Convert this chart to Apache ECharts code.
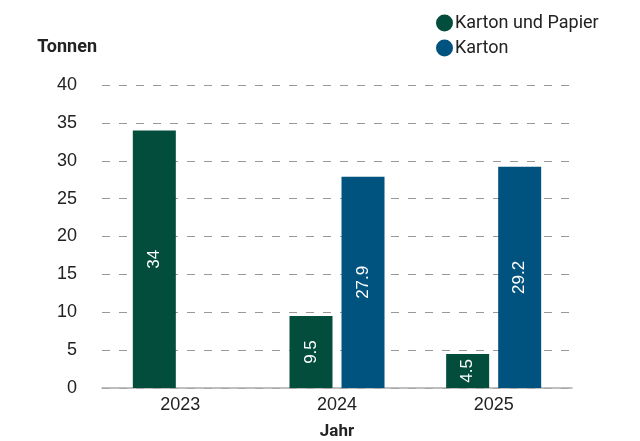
<!DOCTYPE html>
<html>
<head>
<meta charset="utf-8">
<script src="https://cdn.jsdelivr.net/npm/echarts@6/dist/echarts.min.js"></script>
<style>
  html, body { margin: 0; padding: 0; background: #fff; }
  #chart { width: 640px; height: 441px; }
</style>
</head>
<body>
<div id="chart"></div>
<script>
// Daten
const jahre = ['2023', '2024', '2025'];
const kartonUndPapier = [34, 9.5, 4.5];
const karton = [null, 27.9, 29.2];
const yTicks = [0, 5, 10, 15, 20, 25, 30, 35, 40];

const chart = echarts.init(document.getElementById('chart'));

const labelStyle = {
  show: true,
  position: 'inside',
  rotate: 90,
  color: '#fff',
  fontFamily: 'Liberation Sans',
  fontSize: 17
};

chart.setOption({
  animation: false,
  grid: { left: 102, right: 68, top: 85, bottom: 53, containLabel: false, outerBoundsMode: 'none' },
  legend: {
    orient: 'vertical',
    left: 431,
    top: 9,
    itemGap: 7,
    icon: 'circle',
    itemWidth: 17,
    itemHeight: 17,
    textStyle: { fontFamily: 'Roboto', fontSize: 18, color: '#222', padding: [0, 0, 0, -3] },
    data: ['Karton und Papier', 'Karton']
  },
  xAxis: {
    type: 'category',
    data: jahre,
    name: 'Jahr',
    nameLocation: 'middle',
    nameGap: 35,
    nameTextStyle: { fontFamily: 'Roboto', fontWeight: 'bold', fontSize: 17, color: '#222' },
    axisLine: { lineStyle: { color: '#aaa', width: 1.5 } },
    axisTick: { show: false },
    axisLabel: { fontFamily: 'Liberation Sans', fontSize: 18, color: '#222', margin: 8 }
  },
  yAxis: {
    type: 'value',
    min: yTicks[0],
    max: yTicks[yTicks.length - 1],
    interval: 5,
    name: 'Tonnen',
    nameLocation: 'end',
    nameGap: 29,
    nameTextStyle: { fontFamily: 'Roboto', fontWeight: 'bold', fontSize: 18, color: '#222', align: 'right', padding: [0, 5, 0, 0] },
    axisLine: { show: false },
    axisTick: { show: false },
    axisLabel: { fontFamily: 'Liberation Sans', fontSize: 18, color: '#222', margin: 25 },
    splitLine: { lineStyle: { color: '#999', type: [8, 9], width: 1 } }
  },
  series: [
    {
      name: 'Karton und Papier',
      type: 'bar',
      data: kartonUndPapier,
      barWidth: 43,
      barGap: '21%',
      itemStyle: { color: '#034d3c' },
      label: labelStyle
    },
    {
      name: 'Karton',
      type: 'bar',
      data: karton,
      barWidth: 43,
      itemStyle: { color: '#00527f' },
      label: labelStyle
    }
  ]
});
</script>
</body>
</html>
